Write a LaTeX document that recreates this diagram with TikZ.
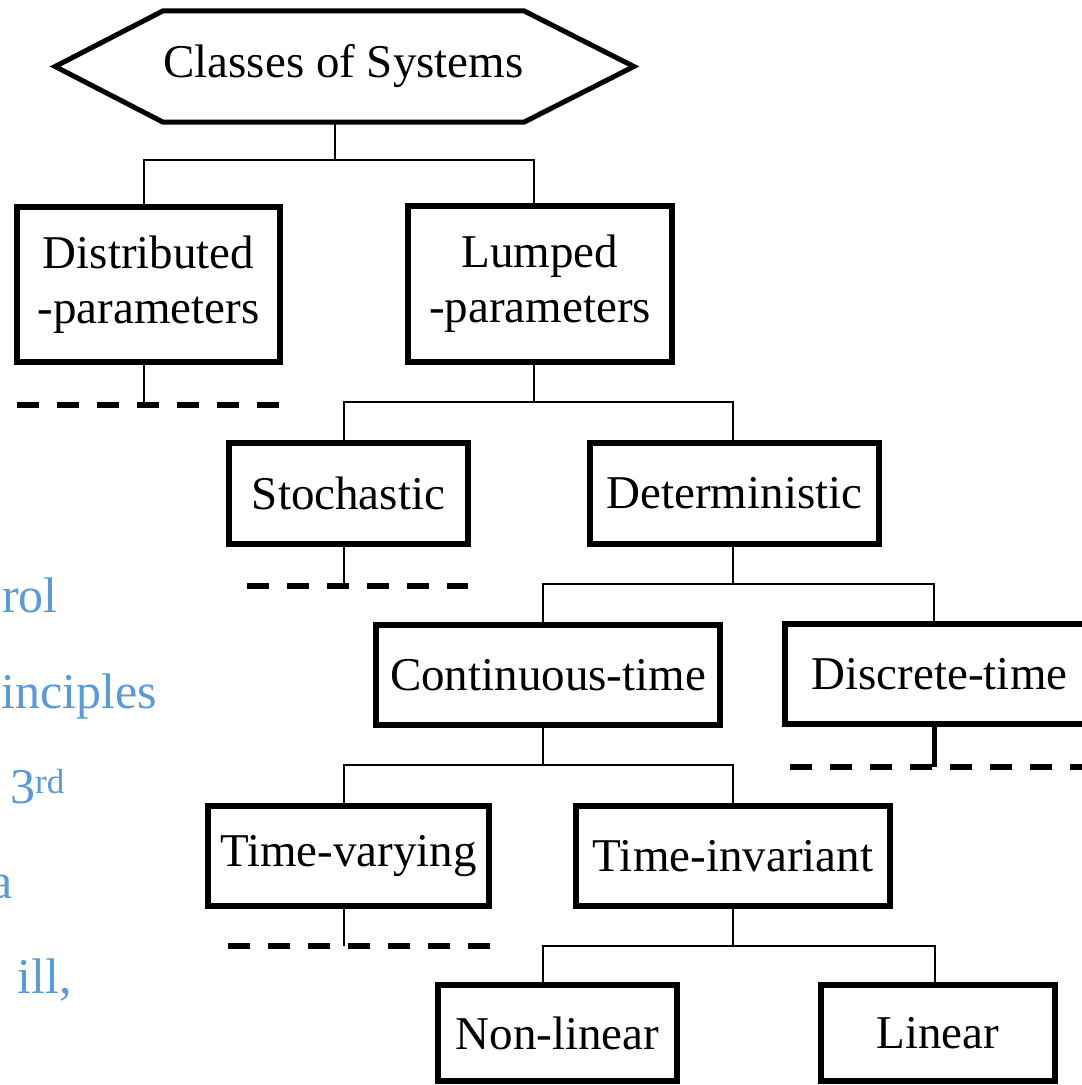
\documentclass[tikz,border=0pt]{standalone}
\usepackage{fontspec}
\setmainfont{Liberation Serif}
\usepackage{tikz}
\definecolor{bookblue}{RGB}{91,155,213}

\begin{document}
\begin{tikzpicture}[x=1pt,y=-1pt,
  sysbox/.style={draw,line width=6pt,inner sep=0pt,align=center,
    font=\fontsize{47}{55}\selectfont},
  conn/.style={line width=2pt},
  stub/.style={line width=6pt,dash pattern=on 22pt off 18pt},
  cover/.style={text=bookblue,inner sep=0pt,font=\fontsize{50}{60}\selectfont}]
  \useasboundingbox (0,0) rectangle (1082,1085);

  % top of the tree
  \node [inner sep=0pt,minimum width=267pt,minimum height=111pt,
    font=\fontsize{47}{55}\selectfont] (root) at (343.5,66.5) {Classes of Systems};
  \draw [line width=5pt,line join=miter] (root.north west) -- (root.north east)
    -- ([xshift=110pt]root.east) -- (root.south east) -- (root.south west)
    -- ([xshift=-108pt]root.west) -- cycle;

  \node [sysbox,minimum width=263pt,minimum height=155pt] (distr) at (148.5,284.5) {Distributed\\-parameters};
  \node [sysbox,minimum width=264pt,minimum height=156pt] (lumped) at (540,284) {Lumped\\-parameters};
  \node [sysbox,minimum width=239pt,minimum height=101pt] (stoch) at (348.5,493.5) {Stochastic};
  \node [sysbox,minimum width=289pt,minimum height=101pt] (determ) at (734.5,493.5) {Deterministic};
  \node [sysbox,minimum width=344pt,minimum height=100pt] (contin) at (548,675) {Continuous-time};
  \node [sysbox,minimum width=309pt,minimum height=100pt] (discr) at (939.5,674) {Discrete-time};
  \node [sysbox,minimum width=281pt,minimum height=100pt] (tvary) at (348.5,856) {Time-varying};
  \node [sysbox,minimum width=314pt,minimum height=100pt] (tinv) at (733,856) {Time-invariant};
  \node [sysbox,minimum width=239pt,minimum height=96pt] (nonlin) at (557.5,1033) {Non-linear};
  \node [sysbox,minimum width=234pt,minimum height=96pt] (linear) at (938,1033) {Linear};

  % branches
  \draw [conn] ([xshift=-8.5pt]root.south) -- ++(0,38) -| ([xshift=-4.5pt]distr.north);
  \draw [conn] ([xshift=-8.5pt]root.south) -- ++(0,38) -| ([xshift=-6pt]lumped.north);
  \draw [conn] ([xshift=-6pt]lumped.south) -- ++(0,37) -| ([xshift=-4.5pt]stoch.north);
  \draw [conn] ([xshift=-6pt]lumped.south) -- ++(0,37) -| ([xshift=-1.5pt]determ.north);
  \draw [conn] ([xshift=-1.5pt]determ.south) -- ++(0,37) -| ([xshift=-5pt]contin.north);
  \draw [conn] ([xshift=-1.5pt]determ.south) -- ++(0,37) -| ([xshift=-5.5pt]discr.north);
  \draw [conn] ([xshift=-5pt]contin.south) -- ++(0,37) -| ([xshift=-4.5pt]tvary.north);
  \draw [conn] ([xshift=-5pt]contin.south) -- ++(0,37) -| (tinv.north);
  \draw [conn] (tinv.south) -- ++(0,37) -| ([xshift=-14.5pt]nonlin.north);
  \draw [conn] (tinv.south) -- ++(0,37) -| ([xshift=-3pt]linear.north);

  % open ends
  \draw [conn] ([xshift=-4.5pt]distr.south) -- ++(0,40) coordinate (distr-end);
  \draw [stub] (distr-end) ++(-127,0) -- ++(263,0);
  \draw [conn] ([xshift=-4.5pt]stoch.south) -- ++(0,39) coordinate (stoch-end);
  \draw [stub] (stoch-end) ++(-97,0) -- ++(221,0);
  \draw [line width=5pt] ([xshift=-5.5pt]discr.south) -- ++(0,40) coordinate (discr-end);
  \draw [stub] (discr-end) ++(-144,0) -- ++(310,0);
  \draw [conn] ([xshift=-4.5pt]tvary.south) -- ++(0,37) coordinate (tvary-end);
  \draw [stub] (tvary-end) ++(-116,0) -- ++(262,0);

  % cut-off text at the left
  \node [cover,anchor=base east] (rol) at (58,612) {rol};
  \node [cover,anchor=base east] (princ) at (157,708) {inciples};
  \node [cover,anchor=base west] (third) at (10,803) {3\textsuperscript{rd}};
  \node [cover,anchor=base east] (pubA) at (13,898) {a};
  \node [cover,anchor=base east] (pubB) at (72,993) {ill,};
\end{tikzpicture}
\end{document}
